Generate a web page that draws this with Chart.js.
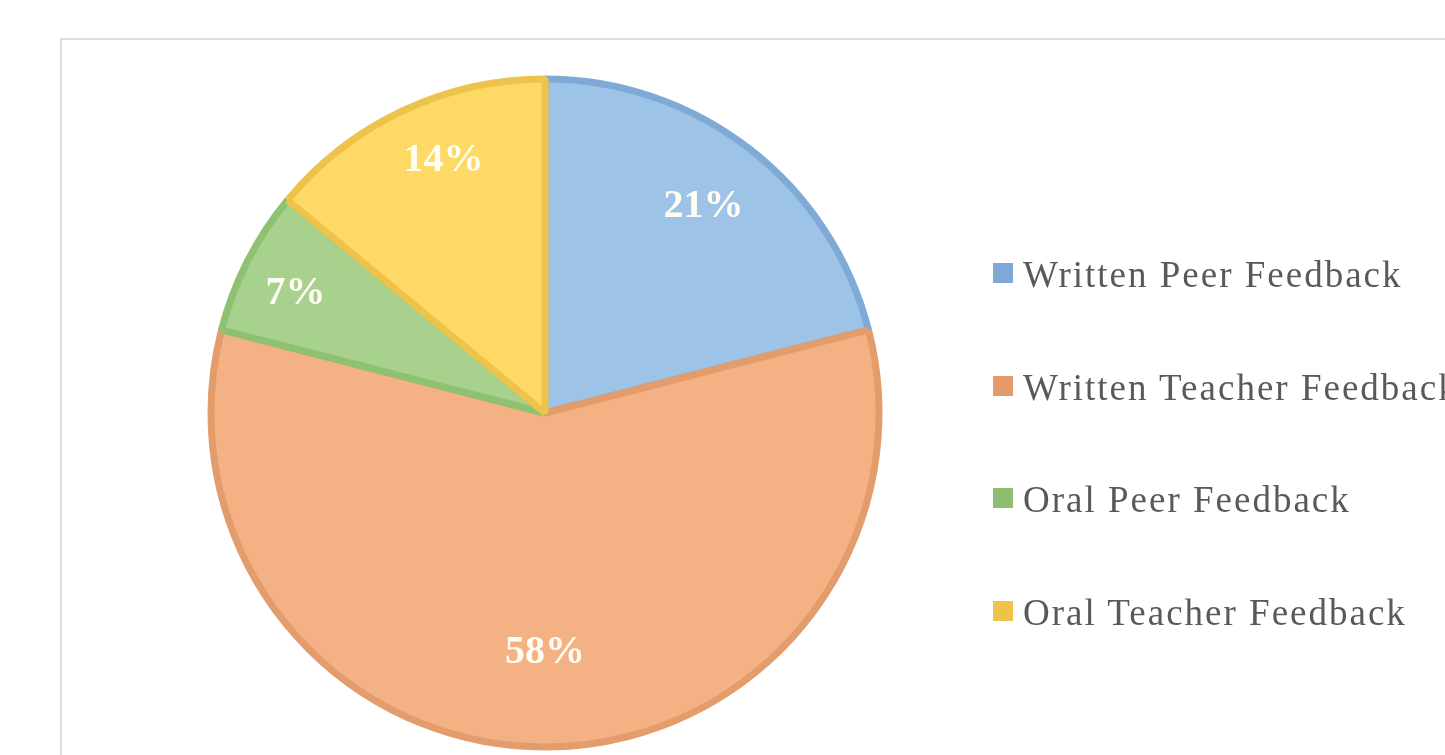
<!DOCTYPE html>
<html>
<head>
<meta charset="utf-8">
<script src="https://cdn.jsdelivr.net/npm/chart.js@4"></script>
<style>
  html, body { margin: 0; padding: 0; background: #ffffff; overflow: hidden; }
  #wrap { position: relative; width: 1445px; height: 755px; }
  #frame { position: absolute; left: 60px; top: 38px; width: 1500px; height: 800px;
           border: 2px solid #dcdcdc; box-sizing: border-box; }
  #c { position: absolute; left: 0; top: 0; }
  .lg { position: absolute; left: 993px; height: 40px; white-space: nowrap;
        font-family: "Liberation Serif", "Times New Roman", serif; font-size: 37px;
        color: #595959; letter-spacing: 2px; }
  .lg .sw { position: absolute; left: 0; width: 20px; height: 20px; }
  .lg .tx { position: absolute; left: 30px; top: -2px; }
</style>
</head>
<body>
<div id="wrap">
  <div id="frame"></div>
  <canvas id="c" width="1445" height="755"></canvas>
  <div id="legend"></div>
</div>
<script>
// ---- data ----
const categories = ["Written Peer Feedback", "Written Teacher Feedback", "Oral Peer Feedback", "Oral Teacher Feedback"];
const values = [21, 58, 7, 14];
const labelTexts = ["21%", "58%", "7%", "14%"];

// ---- styles ----
const fillColors = ["#9DC3E6", "#F4B183", "#A9D18E", "#FFD966"];
const borderColors = ["#80AAD6", "#E39C6C", "#8EC172", "#EEC34B"];
const legendColors = ["#7FA8D6", "#E49A6A", "#8DBE72", "#EFC34A"];
const labelRadiusFrac = [0.785, 0.713, 0.83, 0.82];
const labelAngleShift = [-0.01, 0, -0.02, 0.06];

const labelPlugin = {
  id: 'sliceLabels',
  afterDatasetsDraw(chart) {
    const ctx = chart.ctx;
    const meta = chart.getDatasetMeta(0);
    ctx.save();
    ctx.font = 'bold 40px "Liberation Serif", "Times New Roman", serif';
    ctx.fillStyle = '#fffdf4';
    ctx.textAlign = 'center';
    ctx.textBaseline = 'middle';
    meta.data.forEach((arc, i) => {
      const p = arc.getProps(['x', 'y', 'startAngle', 'endAngle', 'outerRadius'], true);
      const mid = (p.startAngle + p.endAngle) / 2 + labelAngleShift[i];
      const r = p.outerRadius * labelRadiusFrac[i];
      ctx.fillText(labelTexts[i], p.x + Math.cos(mid) * r, p.y + Math.sin(mid) * r + 2);
    });
    ctx.restore();
  }
};

new Chart(document.getElementById('c'), {
  type: 'pie',
  data: {
    labels: categories,
    datasets: [{
      data: values,
      backgroundColor: fillColors,
      borderColor: borderColors,
      borderWidth: 7,
      hoverOffset: 0
    }]
  },
  options: {
    responsive: false,
    animation: false,
    radius: 334,
    layout: { padding: { left: 208, top: 76, right: 563, bottom: 5 } },
    plugins: { legend: { display: false }, tooltip: { enabled: false } },
    events: []
  },
  plugins: [labelPlugin]
});

// HTML legend
const legend = document.getElementById('legend');
const rowTops = [255, 368, 480, 593];
categories.forEach((name, i) => {
  const d = document.createElement('div');
  d.className = 'lg';
  d.style.top = rowTops[i] + 'px';
  d.innerHTML = '<div class="sw" style="top:8px;background:' + legendColors[i] + '"></div><div class="tx">' + name + '</div>';
  legend.appendChild(d);
});
</script>
</body>
</html>
